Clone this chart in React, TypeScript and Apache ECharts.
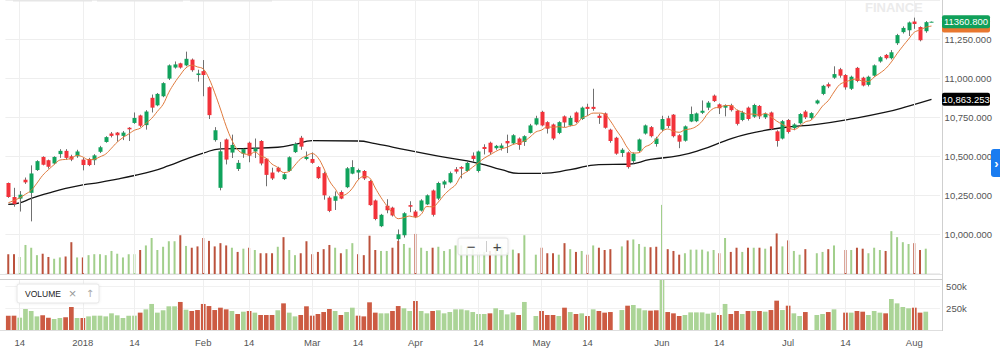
import React, { useEffect, useRef } from 'react';
import * as echarts from 'echarts';

// ---- Data ----
const opens = [10327,10237,10227,10348,10264,10410,10494,10473,10452,10512,10533,10498,10498,10477,10481,10473,10527,10590,10644,10650,10629,10681,10712,10760,10698,10873,10825,10883,10996,11067,11094,11081,11118,11019,11044,10941,10602,10296,10606,10522,10417,10514,10585,10529,10596,10483,10394,10425,10352,10404,10525,10617,10481,10481,10429,10390,10233,10213,10269,10300,10387,10394,10404,10340,10215,10050,10181,10169,9967,9992,10185,10144,10150,10190,10279,10227,10317,10331,10415,10429,10404,10502,10404,10558,10585,10550,10550,10596,10581,10612,10590,10648,10702,10783,10717,10702,10648,10754,10696,10779,10737,10815,10815,10758,10773,10669,10617,10519,10523,10467,10533,10644,10685,10577,10669,10742,10765,10633,10598,10721,10723,10777,10810,10887,10831,10810,10825,10790,10731,10810,10752,10821,10748,10779,10658,10612,10731,10679,10710,10785,10744,10837,10898,10960,11002,11056,11019,10931,11065,11002,10956,11015,11106,11148,11127,11223,11294,11306,11362,11327,11300,11359];
const highs = [10330,10296,10275,10362,10440,10473,10498,10477,10498,10544,10544,10508,10540,10488,10488,10512,10565,10627,10654,10654,10660,10685,10779,10765,10794,10894,10904,10973,11087,11106,11098,11169,11125,11053,11115,10946,10685,10590,10612,10637,10474,10547,10592,10612,10602,10487,10425,10431,10390,10498,10587,10629,10529,10523,10435,10400,10242,10273,10279,10429,10473,10419,10410,10346,10221,10129,10223,10175,10029,10140,10210,10154,10223,10254,10285,10335,10346,10400,10429,10435,10467,10523,10535,10575,10592,10571,10581,10637,10640,10619,10633,10706,10758,10790,10723,10708,10723,10760,10758,10785,10817,10835,10931,10769,10779,10675,10623,10550,10529,10523,10612,10702,10692,10623,10758,10758,10769,10640,10696,10817,10779,10856,10852,10894,10837,10831,10835,10796,10790,10817,10835,10827,10779,10785,10665,10731,10737,10710,10775,10794,10781,10862,10956,10971,11075,11065,11025,11015,11071,11008,11015,11087,11140,11154,11179,11283,11331,11362,11387,11331,11365,11362];
const lows = [10232,10175,10144,10321,10081,10404,10440,10419,10446,10488,10477,10467,10488,10408,10435,10442,10519,10585,10619,10592,10602,10596,10706,10685,10669,10779,10819,10877,10987,11060,11060,11075,11040,10977,10883,10737,10592,10280,10446,10487,10404,10488,10460,10487,10440,10306,10346,10394,10346,10398,10519,10540,10473,10450,10352,10220,10140,10154,10223,10294,10383,10346,10346,10181,10088,10044,10133,10112,9956,9977,10140,10102,10144,10185,10112,10217,10294,10325,10387,10356,10398,10463,10394,10510,10512,10540,10535,10519,10575,10540,10565,10644,10696,10690,10644,10602,10640,10685,10690,10710,10731,10758,10790,10706,10675,10585,10508,10494,10419,10452,10523,10637,10619,10560,10660,10679,10619,10550,10592,10717,10717,10769,10794,10846,10769,10754,10785,10696,10723,10727,10744,10737,10737,10665,10560,10606,10644,10665,10702,10737,10733,10831,10890,10935,10994,11002,10925,10923,10973,10946,10946,11008,11098,11119,11119,11212,11285,11269,11315,11235,11290,11358];
const closes = [10237,10192,10252,10331,10388,10467,10444,10431,10494,10533,10488,10477,10529,10442,10442,10504,10556,10621,10629,10633,10650,10671,10744,10694,10785,10810,10898,10967,11081,11087,11067,11123,11050,11029,11019,10762,10665,10530,10477,10571,10456,10544,10502,10550,10452,10379,10356,10400,10383,10492,10577,10560,10494,10456,10358,10248,10148,10242,10227,10421,10429,10410,10356,10185,10096,10123,10152,10119,9998,10133,10175,10110,10215,10248,10123,10327,10337,10390,10400,10419,10456,10481,10529,10545,10523,10565,10567,10581,10633,10571,10627,10696,10742,10696,10675,10612,10717,10715,10744,10717,10810,10802,10802,10744,10681,10596,10515,10540,10429,10515,10606,10696,10627,10612,10737,10692,10627,10592,10690,10769,10773,10790,10842,10852,10806,10825,10794,10706,10779,10737,10827,10754,10769,10675,10596,10723,10654,10702,10769,10748,10775,10856,10950,10946,11025,11015,10940,11008,10981,10952,11008,11081,11133,11127,11165,11275,11321,11356,11346,11242,11358,11360.8];
// volume in thousands (null = no bar in the picture)
const volumes: (number | null)[] = [165,165,142,242,219,157,169,142,127,138,146,265,138,138,157,165,165,157,192,169,138,165,165,200,238,300,200,227,273,273,323,234,219,230,300,276,230,257,238,219,184,211,219,200,173,173,173,227,307,200,157,173,273,165,184,207,242,219,173,207,257,165,157,319,200,192,192,219,276,250,219,334,219,192,219,227,192,207,238,238,227,207,184,184,192,250,230,180,203,173,323,null,161,219,173,173,161,257,207,184,192,161,238,219,200,207,null,230,280,288,250,227,223,227,576,207,192,161,173,203,203,203,188,200,173,300,184,219,184,219,219,219,211,230,338,230,280,192,161,207,null,173,184,207,238,null,200,200,219,211,173,219,200,192,357,307,265,250,257,200,211,null];
// short moving average (orange)
const shortMA = [10200,10215,10232,10255,10280,10326,10376,10412,10445,10474,10478,10485,10504,10494,10476,10479,10495,10513,10550,10589,10618,10641,10665,10678,10709,10741,10786,10831,10908,10969,11020,11065,11082,11071,11058,10997,10905,10801,10691,10601,10540,10516,10510,10525,10501,10485,10448,10427,10394,10402,10442,10482,10501,10516,10489,10423,10341,10290,10245,10257,10293,10346,10369,10360,10295,10234,10182,10135,10098,10105,10115,10107,10126,10176,10174,10205,10250,10285,10315,10375,10400,10429,10457,10486,10507,10529,10546,10556,10574,10583,10596,10622,10654,10666,10687,10684,10688,10683,10693,10701,10741,10758,10775,10775,10768,10725,10668,10615,10552,10519,10521,10557,10575,10611,10656,10673,10659,10652,10668,10674,10690,10723,10773,10805,10813,10823,10824,10797,10782,10768,10769,10761,10773,10752,10724,10703,10683,10670,10689,10719,10730,10770,10820,10855,10910,10958,10975,10987,10994,10979,10978,11006,11031,11060,11103,11156,11204,11249,11293,11308,11325,11333];
// long moving average (black) read at sample points
const longMAIdx = [0,2,4,7,10,13,16,19,22,25,28,31,34,37,42,47,50,53,61,64,67,75,82,86,89,93,98,103,108,112,117,121,125,129,135,141,147,153,157,161];
const longMAVal = [10190,10200,10228,10262,10292,10315,10331,10352,10375,10401,10438,10480,10518,10546,10549,10556,10575,10598,10596,10580,10557,10499,10453,10412,10388,10389,10412,10445,10447,10478,10502,10542,10597,10642,10681,10703,10738,10781,10820,10863.253];
const tickIndex = [2,13,22,34,42,53,61,71,82,93,101,114,124,136,146,158];
const tickText = ['14','2018','14','Feb','14','Mar','14','Apr','14','May','14','Jun','14','Jul','14','Aug'];

const N = closes.length;
const categories = Array.from({ length: N + 1 }, (_, i) => String(i));

const UP = '#10a35c';
const DOWN = '#f2323a';
const WICK = '#707070';
const VUP = '#abd497';
const VDOWN = '#cc5b43';
const OUP = '#a2cf8c';
const ODOWN = '#bb523c';
const FONT = 'Liberation Sans, Arial, Helvetica, sans-serif';

function fmt3(v: number, comma: boolean) {
  return v.toLocaleString('en-US', { minimumFractionDigits: 3, maximumFractionDigits: 3, useGrouping: comma });
}

export default function App() {
  const ref = useRef<HTMLDivElement>(null);
  useEffect(() => {
    document.body.style.margin = '0';
    const chart = echarts.init(ref.current as HTMLDivElement, null, { renderer: 'svg' });
    const volUp = closes.map((c, i) => (i === 0 ? c >= opens[0] : c >= closes[i - 1]));
    const gridL = 5.4;
    const gridW = 934.7;
    const vlines = tickIndex.map((i) => ({ xAxis: categories[i] }));
    const markLineCommon = {
      silent: true,
      symbol: ['none', 'none'],
      label: { show: false },
      lineStyle: { color: '#efefef', width: 1, type: 'solid' },
      emphasis: { disabled: true },
      data: vlines,
    };
    const hiddenX = (gi: number) => ({
      type: 'category', gridIndex: gi, data: categories, boundaryGap: true,
      axisLine: { show: false }, axisTick: { show: false }, axisLabel: { show: false }, splitLine: { show: false },
    });
    const option: any = {
      animation: false,
      textStyle: { fontFamily: FONT },
      grid: [
        { left: gridL, top: -7, width: gridW, height: 280 },
        { left: gridL, top: 202, width: gridW, height: 72 },
        { left: gridL, top: 279.3, width: gridW, height: 50.7 },
      ],
      xAxis: [
        hiddenX(0),
        hiddenX(1),
        {
          type: 'category', gridIndex: 2, data: categories, boundaryGap: true,
          axisLine: { show: false }, axisTick: { show: false }, splitLine: { show: false },
          axisLabel: {
            interval: (i: number) => tickIndex.includes(i),
            formatter: (v: string) => { const k = tickIndex.indexOf(Number(v)); return k >= 0 ? tickText[k] : ''; },
            fontSize: 9.5, color: '#555', margin: 7, fontFamily: FONT,
          },
        },
      ],
      yAxis: [
        {
          type: 'value', gridIndex: 0, position: 'right', offset: 2, min: 9750, max: 11500, interval: 250,
          axisLine: { show: false }, axisTick: { show: false },
          splitLine: { lineStyle: { color: '#eeeeee' } },
          axisLabel: {
            margin: 2.5, fontSize: 9.5, color: '#555', fontFamily: FONT,
            formatter: (v: number) => (v >= 10000 && v <= 11250 ? fmt3(v, true) : ''),
          },
        },
        { type: 'value', gridIndex: 1, min: 0, max: 600, show: false },
        {
          type: 'value', gridIndex: 2, position: 'right', offset: 2, min: 0, max: 584, interval: 250,
          axisLine: { show: false }, axisTick: { show: false },
          splitLine: { lineStyle: { color: '#f1f1f1' } },
          axisLabel: {
            margin: 4, fontSize: 9.5, color: '#555', fontFamily: FONT,
            formatter: (v: number) => (v === 250 || v === 500 ? v + 'k' : ''),
          },
        },
      ],
      series: [
        { type: 'line', xAxisIndex: 0, yAxisIndex: 0, data: [], z: 0, silent: true, markLine: markLineCommon },
        { type: 'line', xAxisIndex: 2, yAxisIndex: 2, data: [], z: 0, silent: true, markLine: markLineCommon },
        {
          type: 'bar', xAxisIndex: 1, yAxisIndex: 1, barWidth: 2, silent: true, z: 1,
          data: volumes.map((v, i) => (v == null ? '-' : { value: v, itemStyle: { color: volUp[i] ? OUP : ODOWN } })),
        },
        {
          type: 'bar', xAxisIndex: 2, yAxisIndex: 2, barWidth: '82%', silent: true, z: 2,
          data: volumes.map((v, i) => (v == null ? '-' : { value: v, itemStyle: { color: volUp[i] ? VUP : VDOWN } })),
        },
        {
          type: 'line', xAxisIndex: 0, yAxisIndex: 0, z: 4, silent: true, showSymbol: false, smooth: 0.5,
          data: longMAIdx.map((x, k) => [x, longMAVal[k]]),
          lineStyle: { color: '#141414', width: 1.3 },
        },
        {
          type: 'custom', xAxisIndex: 0, yAxisIndex: 0, z: 5, silent: true,
          data: closes.map((c, i) => [i, opens[i], c, lows[i], highs[i]]),
          encode: { x: 0, y: [1, 2, 3, 4] },
          renderItem: (params: any, api: any) => {
            const x = api.value(0);
            const o = api.value(1), c = api.value(2), l = api.value(3), h = api.value(4);
            const pO = api.coord([x, o]);
            const pC = api.coord([x, c]);
            const pL = api.coord([x, l]);
            const pH = api.coord([x, h]);
            const cx = Math.round(pO[0]);
            const top = Math.min(pO[1], pC[1]);
            const hgt = Math.max(Math.abs(pO[1] - pC[1]), 1);
            const up = c >= o;
            return {
              type: 'group',
              children: [
                { type: 'line', shape: { x1: cx + 0.5, y1: pH[1], x2: cx + 0.5, y2: pL[1] }, style: { stroke: WICK, lineWidth: 1 } },
                { type: 'rect', shape: { x: cx - 1.5, y: top, width: 4, height: hgt }, style: { fill: up ? UP : DOWN } },
              ],
            };
          },
        },
        {
          type: 'line', xAxisIndex: 0, yAxisIndex: 0, z: 6, silent: true, showSymbol: false, smooth: 0.4,
          data: shortMA, lineStyle: { color: '#e07a3c', width: 1 },
        },
      ],
    };
    chart.setOption(option);

    const py = (v: number) => chart.convertToPixel({ yAxisIndex: 0 }, v) as number;
    const lastClose = closes[N - 1];
    const lastShort = shortMA[N - 1];
    const lastLong = longMAVal[longMAVal.length - 1];
    const badgeRect = (v: number, fill: string) => ({
      type: 'rect', z: 60, shape: { x: 942, y: py(v) - 6.5, width: 48, height: 13, r: 2 }, style: { fill },
    });
    const badgeText = (v: number, txt: string, tc: string) => ({
      type: 'text', z: 61, x: 966, y: py(v),
      style: { text: txt, fill: tc, fontSize: 9.5, fontFamily: FONT, align: 'center', verticalAlign: 'middle' },
    });
    const graphics: any[] = [
      { type: 'rect', z: 50, shape: { x: 13, y: -1, width: 79, height: 2.5 }, style: { fill: '#e6e6e6' } },
      { type: 'rect', z: 50, shape: { x: 97, y: -1, width: 86, height: 2.5 }, style: { fill: '#e6e6e6' } },
      { type: 'rect', z: 50, shape: { x: 190, y: -1, width: 82, height: 2.5 }, style: { fill: '#e6e6e6' } },
      {
        type: 'text', x: 865, y: 7.5, z: 0,
        style: { text: 'FINANCE', fill: '#ebebeb', fontSize: 13, fontWeight: 'bold', fontFamily: FONT, verticalAlign: 'middle' },
      },
      { type: 'line', z: 50, shape: { x1: 0, y1: 274.5, x2: 942, y2: 274.5 }, style: { stroke: '#e2e2e2', lineWidth: 1 } },
      { type: 'line', z: 50, shape: { x1: 0, y1: 279.5, x2: 942, y2: 279.5 }, style: { stroke: '#cfcfcf', lineWidth: 1 } },
      { type: 'line', z: 50, shape: { x1: 0, y1: 330.5, x2: 942, y2: 330.5 }, style: { stroke: '#dedede', lineWidth: 1 } },
      { type: 'line', z: 50, shape: { x1: 942.5, y1: 0, x2: 942.5, y2: 331 }, style: { stroke: '#cfcfcf', lineWidth: 1 } },
      // zoom buttons
      {
        type: 'rect', z: 70, shape: { x: 458, y: 238, width: 50, height: 17, r: 2 },
        style: { fill: 'rgba(255,255,255,0.85)', stroke: '#e4e4e4', shadowBlur: 3, shadowColor: 'rgba(0,0,0,0.08)' },
      },
      { type: 'text', z: 71, x: 471, y: 246.5, style: { text: '\u2212', fill: '#444', fontSize: 15, fontFamily: FONT, align: 'center', verticalAlign: 'middle' } },
      { type: 'line', z: 71, shape: { x1: 486.5, y1: 241, x2: 486.5, y2: 252 }, style: { stroke: '#cccccc', lineWidth: 1 } },
      { type: 'text', z: 71, x: 497, y: 246.5, style: { text: '+', fill: '#444', fontSize: 15, fontFamily: FONT, align: 'center', verticalAlign: 'middle' } },
      // volume legend
      {
        type: 'rect', z: 70, shape: { x: 17, y: 284, width: 82, height: 19, r: 2 },
        style: { fill: '#ffffff', stroke: '#e6e6e6', shadowBlur: 3, shadowColor: 'rgba(0,0,0,0.08)' },
      },
      { type: 'text', z: 71, x: 25, y: 294, style: { text: 'VOLUME', fill: '#222', fontSize: 8.5, fontFamily: FONT, verticalAlign: 'middle' } },
      { type: 'text', z: 71, x: 72.5, y: 293.5, style: { text: '\u00d7', fill: '#999', fontSize: 13, fontFamily: FONT, align: 'center', verticalAlign: 'middle' } },
      { type: 'text', z: 71, x: 90, y: 293.5, style: { text: '\u2191', fill: '#aaa', fontSize: 10, fontFamily: 'DejaVu Sans, sans-serif', align: 'center', verticalAlign: 'middle' } },
      // right tab
      { type: 'rect', z: 70, shape: { x: 991, y: 149, width: 12, height: 28, r: 3 }, style: { fill: '#1a7cf0' } },
      { type: 'text', z: 71, x: 996.5, y: 163, style: { text: '\u203a', fill: '#fff', fontSize: 13, fontWeight: 'bold', fontFamily: FONT, align: 'center', verticalAlign: 'middle' } },
      // value badges (orange one sits under the green one)
      badgeRect(lastShort, '#e8772f'),
      badgeRect(lastClose, '#10a05a'),
      badgeText(lastClose, fmt3(lastClose, false), '#ffffff'),
      badgeRect(lastLong, '#000000'),
      badgeText(lastLong, fmt3(lastLong, true), '#ffffff'),
    ];
    chart.setOption({ graphic: graphics });
    return () => chart.dispose();
  }, []);
  return <div ref={ref} style={{ width: 1000, height: 355 }} />;
}
